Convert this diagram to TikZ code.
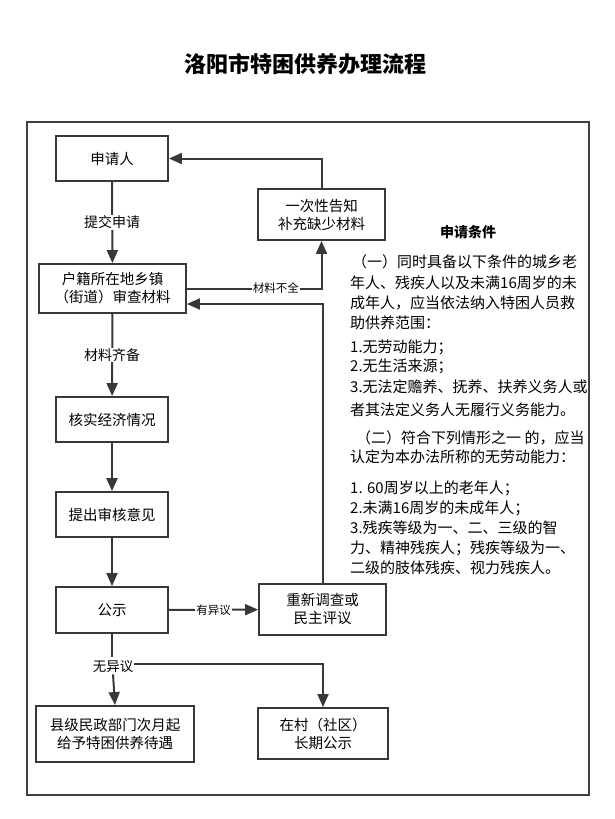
\documentclass[tikz,border=0pt]{standalone}
\usepackage{fontspec}
\setmainfont{Noto Sans CJK SC}
\usetikzlibrary{arrows.meta}
\definecolor{dk}{HTML}{383838}
\begin{document}
\begin{tikzpicture}[x=1pt,y=-1pt,
 box/.style={draw=dk,line width=1.9pt,fill=white,align=center,font=\fontsize{14.5}{18}\selectfont,inner sep=0pt},
 conn/.style={draw=dk,line width=2pt,-{Triangle[length=13pt,width=11pt]}},
 lab/.style={fill=white,inner sep=1pt,font=\fontsize{14}{16}\selectfont},
 slab/.style={fill=white,inner sep=1pt,font=\fontsize{11.5}{14}\selectfont},
 txt/.style={anchor=west,inner sep=0pt,font=\fontsize{15}{18}\selectfont}]
\useasboundingbox (0,0) rectangle (614,819);
\fill[white] (0,0) rectangle (614,819);
\node[font=\fontsize{22}{26}\selectfont\bfseries] (title) at (305,64) {洛阳市特困供养办理流程};
\draw[line width=2pt,draw=black!75] (27,122) rectangle (589,795);
% boxes
\node[box,minimum width=112pt,minimum height=45pt] (sq) at (112,158.5) {申请人};
\node[box,minimum width=147pt,minimum height=49pt] (hj) at (112.5,288.5) {户籍所在地乡镇\\（街道）审查材料};
\node[box,minimum width=127pt,minimum height=51pt] (yc) at (321.5,214.5) {一次性告知\\补充缺少材料};
\node[box,minimum width=112pt,minimum height=45pt] (hs) at (112,419.5) {核实经济情况};
\node[box,minimum width=112pt,minimum height=45pt] (tc) at (112,514.5) {提出审核意见};
\node[box,minimum width=112pt,minimum height=46pt] (gs) at (112,610) {公示};
\node[box,minimum width=127pt,minimum height=51pt] (cx) at (322.5,609.5) {重新调查或\\民主评议};
\node[box,minimum width=158pt,minimum height=56pt] (xj) at (115,734) {县级民政部门次月起\\给予特困供养待遇};
\node[box,minimum width=130pt,minimum height=51pt] (zc) at (323,733.5) {在村（社区）\\长期公示};
% connectors
\draw[conn] (sq) -- node[lab]{提交申请} (hj);
\draw[conn] (hj) -- node[lab]{材料齐备} (hs);
\draw[conn] (hs) -- (tc);
\draw[conn] (tc) -- (gs);
\draw[conn] (gs) -- node[slab]{有异议} (cx);
\draw[conn] (yc.north) |- (sq.east);
\draw[conn] (hj.east) -| node[slab,pos=0.33]{材料不全} (yc.south);
\draw[conn] (cx.north) |- ([yshift=-15.5pt]hj.east);
\draw[draw=dk,line width=2pt] (gs.south) -- (112,657);
\node[lab,font=\fontsize{13.5}{16}\selectfont] (wy) at (113,667) {无异议};
\draw[conn] (wy.south) -- (xj.north);
\draw[conn] ([yshift=3pt]wy.east) -| (zc.north);
% conditions
\node[font=\fontsize{14}{16}\selectfont\bfseries] (tj) at (468,232) {申请条件};
\node[txt] (l1) at (352,262) {（一）同时具备以下条件的城乡老};
\node[txt] (l2) at (350,283) {年人、残疾人以及未满16周岁的未};
\node[txt] (l3) at (350,303) {成年人，应当依法纳入特困人员救};
\node[txt] (l4) at (350,323) {助供养范围：};
\node[txt] (l5) at (350,347) {1.无劳动能力；};
\node[txt] (l6) at (350,366) {2.无生活来源；};
\node[txt] (l7) at (350,387) {3.无法定赡养、抚养、扶养义务人或};
\node[txt] (l8) at (350,410) {者其法定义务人无履行义务能力。};
\node[txt] (l9) at (356,438) {（二）符合下列情形之一 的，应当};
\node[txt] (l10) at (350,457) {认定为本办法所称的无劳动能力：};
\node[txt] (l11) at (350,488) {1. 60周岁以上的老年人；};
\node[txt] (l12) at (350,508) {2.未满16周岁的未成年人；};
\node[txt] (l13) at (350,528) {3.残疾等级为一、二、三级的智};
\node[txt] (l14) at (350,548) {力、精神残疾人；残疾等级为一、};
\node[txt] (l15) at (350,568) {二级的肢体残疾、视力残疾人。};
\end{tikzpicture}
\end{document}
